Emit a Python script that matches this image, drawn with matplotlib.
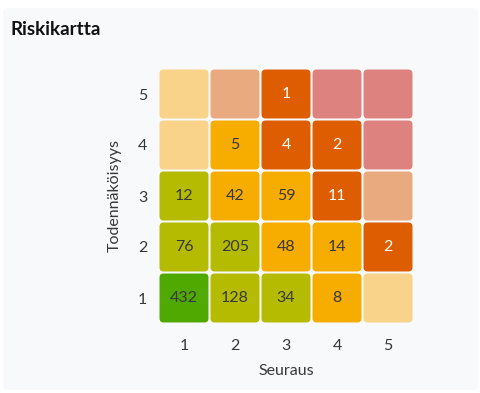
import matplotlib
matplotlib.use("Agg")
import matplotlib.pyplot as plt
from matplotlib.patches import FancyBboxPatch

plt.rcParams['font.family'] = ['Lato', 'DejaVu Sans']

# Data: rows are likelihood 1..5 (bottom to top), columns consequence 1..5
consequence = [1, 2, 3, 4, 5]
likelihood = [1, 2, 3, 4, 5]
counts = [
    [432, 128, 34, 8, None],
    [76, 205, 48, 14, 2],
    [12, 42, 59, 11, None],
    [None, 5, 4, 2, None],
    [None, None, 1, None, None],
]
# risk level of each cell: 0 green, 1 yellow-green, 2 orange, 3 dark orange, 4 red
levels = [
    [0, 1, 1, 2, 2],
    [1, 1, 2, 2, 3],
    [1, 2, 2, 3, 3],
    [2, 2, 3, 3, 4],
    [2, 3, 3, 4, 4],
]
full_colors = ['#4fa900', '#b4bb00', '#f6ad00', '#dd5d00', '#d42d2d']
faded_colors = ['#a6d47f', '#d9dd80', '#f8d389', '#e9aa80', '#de8280']
text_colors = ['#383838', '#383838', '#383838', '#ffffff', '#ffffff']

fig = plt.figure(figsize=(4.81, 3.93), dpi=100)
fig.patch.set_facecolor('white')
panel = FancyBboxPatch((3 / 481, 3 / 393), 475 / 481, 382 / 393,
                       boxstyle='round,pad=0,rounding_size=0.01',
                       transform=fig.transFigure, facecolor='#f7f9fb',
                       edgecolor='none', zorder=-5)
fig.patches.append(panel)
fig.text(10 / 481, 1 - 29.5 / 393, 'Riskikartta', fontsize=13.5, fontweight='bold',
         color='#111111', va='center', ha='left')

ax = fig.add_axes([158.5 / 481, 1 - 323.5 / 393, 255 / 481, 255 / 393])
ax.set_facecolor('none')
half = 0.48
for r, lk in enumerate(likelihood):
    for c, cq in enumerate(consequence):
        lv = levels[r][c]
        n = counts[r][c]
        color = full_colors[lv] if n is not None else faded_colors[lv]
        box = FancyBboxPatch((cq - half, lk - half), 2 * half, 2 * half,
                             boxstyle='round,pad=0,rounding_size=0.08',
                             facecolor=color, edgecolor='none')
        ax.add_patch(box)
        if n is not None:
            ax.text(cq, lk, str(n), ha='center', va='center', fontsize=11.5,
                    color=text_colors[lv])

ax.set_xlim(0.5, 5.5)
ax.set_ylim(0.5, 5.5)
ax.set_xticks(consequence)
ax.set_yticks(likelihood)
ax.tick_params(length=0, labelsize=11.5, labelcolor='#383838')
ax.tick_params(axis='x', pad=11)
ax.tick_params(axis='y', pad=8)
for s in ax.spines.values():
    s.set_visible(False)
ax.set_xlabel('Seuraus', fontsize=11.5, color='#383838', labelpad=8)
ax.set_ylabel('Todennäköisyys', fontsize=11.5, color='#383838', labelpad=12)

fig.savefig('out.png', dpi=100, facecolor='white')
